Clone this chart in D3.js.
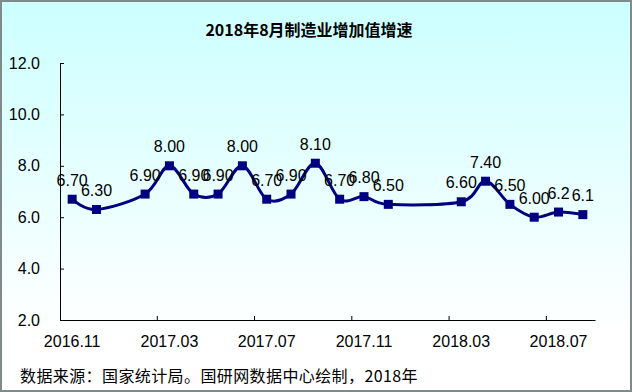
<!DOCTYPE html>
<html>
<head>
<meta charset="utf-8">
<script src="https://cdn.jsdelivr.net/npm/d3@7"></script>
<style>
  body { margin: 0; padding: 0; }
  svg { display: block; }
</style>
</head>
<body>
<div id="chart"></div>
<script>
// months on the x axis (Jan 2017, Jan/Feb 2018 have no value)
const months = ["2016.11", "2016.12", "2017.01", "2017.02", "2017.03", "2017.04", "2017.05", "2017.06",
    "2017.07", "2017.08", "2017.09", "2017.10", "2017.11", "2017.12", "2018.01", "2018.02",
    "2018.03", "2018.04", "2018.05", "2018.06", "2018.07", "2018.08"];
const growth = [6.7, 6.3, null, 6.9, 8.0, 6.9, 6.9, 8.0, 6.7, 6.9, 8.1, 6.7, 6.8, 6.5, null, null,
    6.6, 7.4, 6.5, 6.0, 6.2, 6.1];
const valueLabels = ["6.70", "6.30", null, "6.90", "8.00", "6.90", "6.90", "8.00", "6.70", "6.90", "8.10",
    "6.70", "6.80", "6.50", null, null, "6.60", "7.40", "6.50", "6.00", "6.2", "6.1"];
const xTickLabels = ["2016.11", "2017.03", "2017.07", "2017.11", "2018.03", "2018.07"];
const yTicks = [2, 4, 6, 8, 10, 12];

const W = 632, H = 392;
const margin = { top: 63, right: 37, bottom: 72, left: 60 };
const color = "#000080";
const latin = "'Liberation Sans', Arial, sans-serif";
const cjk = "'Noto Sans CJK SC', sans-serif";

const svg = d3.select("#chart")
    .append("svg")
    .attr("width", W)
    .attr("height", H);

// background gradient (light cyan to white)
const grad = svg.append("defs")
    .append("linearGradient")
    .attr("id", "bg")
    .attr("x1", 0).attr("y1", 0)
    .attr("x2", 0).attr("y2", 1);
grad.append("stop").attr("offset", "0%").attr("stop-color", "#ccffff");
grad.append("stop").attr("offset", "85%").attr("stop-color", "#ffffff");
grad.append("stop").attr("offset", "100%").attr("stop-color", "#ffffff");

svg.append("rect")
    .attr("x", 1).attr("y", 1)
    .attr("width", W - 2).attr("height", H - 2)
    .attr("fill", "url(#bg)")
    .attr("stroke", "#808a8a")
    .attr("stroke-width", 2);

// scales
const x = d3.scaleBand()
    .domain(months)
    .range([margin.left, W - margin.right]);

const y = d3.scaleLinear()
    .domain([2, 12])
    .range([H - margin.bottom, margin.top]);

const cx = m => x(m) + x.bandwidth() / 2;

// Y axis
const yAxis = svg.append("g")
    .attr("transform", `translate(${margin.left},0)`)
    .call(d3.axisLeft(y)
        .tickValues(yTicks)
        .tickFormat(d3.format(".1f"))
        .tickSizeInner(-4)
        .tickSizeOuter(0)
        .tickPadding(20));

// X axis (labels centered on every 4th month)
const xAxis = svg.append("g")
    .attr("transform", `translate(0,${H - margin.bottom})`)
    .call(d3.axisBottom(x)
        .tickValues(xTickLabels)
        .tickSize(0)
        .tickPadding(16));

// tick marks sit on the band edges, pointing up
xAxis.selectAll(".edge")
    .data(xTickLabels.slice(1))
    .enter()
    .append("line")
    .attr("class", "edge")
    .attr("x1", d => x(d)).attr("x2", d => x(d))
    .attr("y1", 0).attr("y2", -4)
    .attr("stroke", "#000");

[yAxis, xAxis].forEach(g => {
    g.selectAll("path, line").attr("stroke", "#000").attr("stroke-width", 1);
    g.selectAll("text")
        .attr("fill", "#000")
        .style("font-family", latin)
        .style("font-size", "16px");
});

// points (missing months are skipped, line bridges the gap)
const points = months
    .map((m, i) => ({ month: m, value: growth[i], label: valueLabels[i] }))
    .filter(d => d.value !== null);

const line = d3.line()
    .x(d => cx(d.month))
    .y(d => y(d.value))
    .curve(d3.curveCardinal.tension(0));

svg.append("path")
    .datum(points)
    .attr("d", line)
    .attr("fill", "none")
    .attr("stroke", color)
    .attr("stroke-width", 3)
    .attr("stroke-linejoin", "round");

const size = 9;
svg.selectAll(".marker")
    .data(points)
    .enter()
    .append("rect")
    .attr("class", "marker")
    .attr("x", d => cx(d.month) - size / 2)
    .attr("y", d => y(d.value) - size / 2)
    .attr("width", size)
    .attr("height", size)
    .attr("fill", color);

// value labels above points (they overlap in the original too)
svg.selectAll(".vlabel")
    .data(points)
    .enter()
    .append("text")
    .attr("class", "vlabel")
    .attr("x", d => cx(d.month))
    .attr("y", d => y(d.value) - 13.5)
    .attr("text-anchor", "middle")
    .style("font-family", latin)
    .style("font-size", "16px")
    .attr("fill", "#000")
    .text(d => d.label);

// Title
svg.append("text")
    .attr("x", 309)
    .attr("y", 36)
    .attr("text-anchor", "middle")
    .style("font-family", cjk)
    .style("font-size", "16px")
    .style("font-weight", "bold")
    .text("2018年8月制造业增加值增速");

// Source note
svg.append("text")
    .attr("x", 20)
    .attr("y", 382)
    .style("font-family", cjk)
    .style("font-size", "16px")
    .style("letter-spacing", "0.4px")
    .text("数据来源：国家统计局。国研网数据中心绘制，2018年");
</script>
</body>
</html>
